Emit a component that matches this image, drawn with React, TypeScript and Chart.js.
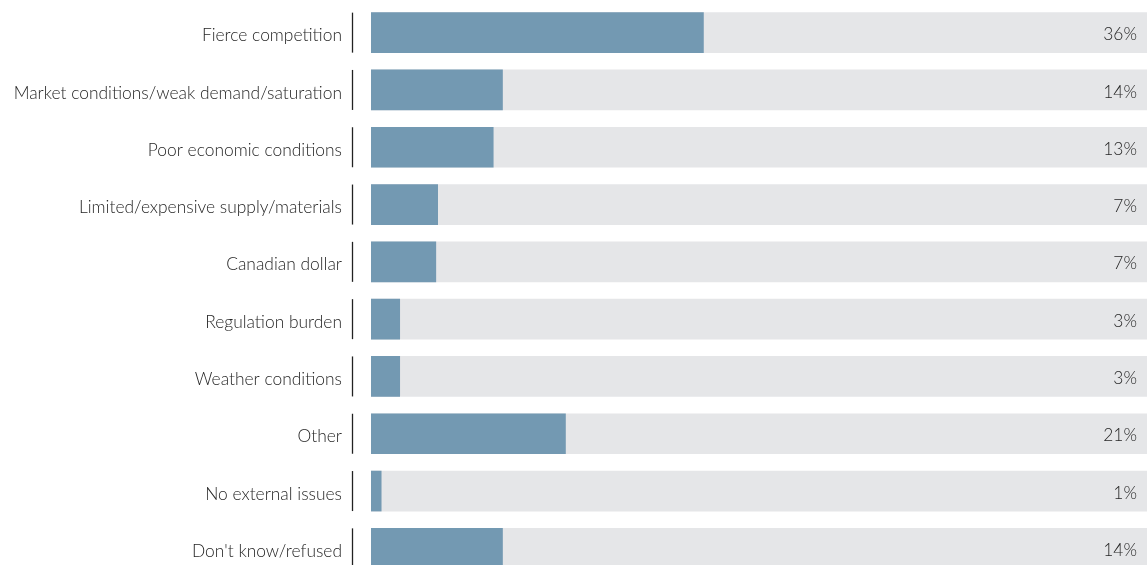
import React, { useEffect, useRef } from "react";
import { Chart, registerables } from "chart.js";

Chart.register(...registerables);

const categories = [
  "Fierce competition",
  "Market conditions/weak demand/saturation",
  "Poor economic conditions",
  "Limited/expensive supply/materials",
  "Canadian dollar",
  "Regulation burden",
  "Weather conditions",
  "Other",
  "No external issues",
  "Don't know/refused",
];
const values = [35.9, 14.2, 13.2, 7.2, 7.0, 3.1, 3.1, 21.0, 1.1, 14.2];
const valueLabels = ["36%", "14%", "13%", "7%", "7%", "3%", "3%", "21%", "1%", "14%"];
const axisMax = 83.8;
const trackValues = categories.map(() => axisMax);

const FONT = "Lato, 'Open Sans', sans-serif";

export default function App() {
  const ref = useRef<HTMLCanvasElement | null>(null);
  useEffect(() => {
    if (!ref.current) return;
    const decorPlugin = {
      id: "decor",
      afterDatasetsDraw(chart: any) {
        const ctx = chart.ctx;
        const meta = chart.getDatasetMeta(0);
        const area = chart.chartArea;
        const labels = chart.data.labels as string[];
        ctx.save();
        meta.data.forEach((bar: any, i: number) => {
          const h = bar.height;
          const top = bar.y - h / 2;
          ctx.strokeStyle = "#222";
          ctx.lineWidth = 1.3;
          ctx.beginPath();
          ctx.moveTo(area.left - 18.5, top);
          ctx.lineTo(area.left - 18.5, top + h);
          ctx.stroke();
          ctx.fillStyle = "#262626";
          ctx.font = `300 17.4px ${FONT}`;
          ctx.textBaseline = "middle";
          ctx.textAlign = "right";
          ctx.fillText(valueLabels[i], area.right - 10, bar.y + 2);
          ctx.fillText(labels[i], area.left - 29, bar.y + 3);
        });
        ctx.restore();
      },
    };
    const chart = new Chart(ref.current, {
      type: "bar",
      data: {
        labels: categories,
        datasets: [
          {
            data: values,
            backgroundColor: "#7399B2",
            barThickness: 40,
            grouped: false,
            order: 0,
          },
          {
            data: trackValues,
            backgroundColor: "#E5E6E8",
            barThickness: 40,
            grouped: false,
            order: 1,
          },
        ],
      },
      options: {
        indexAxis: "y",
        animation: false,
        responsive: false,
        maintainAspectRatio: false,
        layout: { padding: { top: 4, bottom: 3, right: 1, left: 371 } },
        plugins: {
          legend: { display: false },
          tooltip: { enabled: false },
        },
        scales: {
          x: {
            display: false,
            min: 0,
            max: axisMax,
          },
          y: {
            display: false,
          },
        },
      },
      plugins: [decorPlugin],
    });
    return () => chart.destroy();
  }, []);
  return (
    <div style={{ position: "fixed", left: 0, top: 0, width: 1148, height: 565, overflow: "hidden", background: "#fff" }}>
      <canvas ref={ref} width={1148} height={580} style={{ display: "block", width: 1148, height: 580 }} />
    </div>
  );
}
